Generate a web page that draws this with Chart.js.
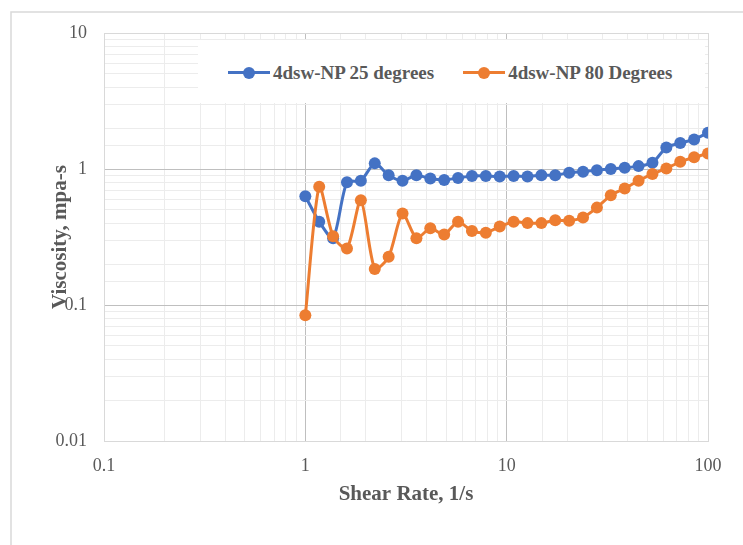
<!DOCTYPE html>
<html>
<head>
<meta charset="utf-8">
<title>Viscosity vs shear rate</title>
<script src="https://cdn.jsdelivr.net/npm/chart.js@4.4.1/dist/chart.umd.min.js"></script>
<style>
  html, body { margin: 0; padding: 0; background: #fff; }
  #wrap { position: relative; width: 743px; height: 545px; }
  #legend {
    position: absolute; left: 198px; top: 40px; width: 507px; height: 63px;
    box-sizing: border-box; padding: 2px 0 0 30px; background: #fff;
    display: flex; align-items: center; gap: 29px;
    font: bold 19px 'Liberation Serif', 'Times New Roman', serif; color: #595959;
  }
  .item { display: flex; align-items: center; white-space: nowrap; }
  .swatch { position: relative; width: 42px; height: 12px; margin-right: 3px; }
  .swatch .ln { position: absolute; left: 0; right: 0; top: 4.5px; height: 3px; }
  .swatch .dot { position: absolute; left: 15px; top: 0; width: 12px; height: 12px; border-radius: 50%; }
</style>
</head>
<body>
<div id="wrap">
  <canvas id="chart-viscosity" width="743" height="545"></canvas>
  <div id="legend"></div>
</div>
<script>
// shear rate steps, 1/s
const shearRate = [1, 1.172, 1.374, 1.610, 1.887, 2.212, 2.593, 3.039, 3.562, 4.175,
                   4.894, 5.736, 6.723, 7.880, 9.237, 10.83, 12.69, 14.87, 17.43, 20.43,
                   23.95, 28.07, 32.90, 38.57, 45.20, 52.98, 62.10, 72.79, 85.32, 100];

// viscosity, mPa-s
const visc25 = [0.63, 0.41, 0.31, 0.80, 0.82, 1.10, 0.90, 0.82, 0.90, 0.85,
                0.83, 0.86, 0.89, 0.89, 0.88, 0.89, 0.88, 0.90, 0.90, 0.94,
                0.955, 0.98, 1.00, 1.02, 1.05, 1.11, 1.44, 1.55, 1.65, 1.85];
const visc80 = [0.084, 0.74, 0.32, 0.26, 0.59, 0.184, 0.226, 0.47, 0.31, 0.366,
                0.33, 0.41, 0.35, 0.34, 0.377, 0.41, 0.40, 0.40, 0.42, 0.417,
                0.44, 0.52, 0.64, 0.72, 0.82, 0.92, 1.01, 1.13, 1.22, 1.30];

const seriesNames = ['4dsw-NP 25 degrees', '4dsw-NP 80 Degrees'];
const seriesColors = ['#4472C4', '#ED7D31'];

const xTickLabels = [0.1, 1, 10, 100];
const yTickLabels = [0.01, 0.1, 1, 10];

const FONT = "'Liberation Serif', 'Times New Roman', serif";
const TEXT = '#595959';

function toPoints(xs, ys) {
    return xs.map((x, i) => ({ x: x, y: ys[i] }));
}

function sameValue(a, b) {
    return Math.abs(a - b) < 1e-9 * Math.max(1, b);
}

function tickText(list) {
    return (value) => {
        const hit = list.find(v => sameValue(value, v));
        return hit === undefined ? '' : String(hit);
    };
}

// light edges, darker decade lines, faint minor lines
function gridColor(list) {
    return (ctx) => {
        const v = ctx.tick ? ctx.tick.value : null;
        if (v === null) return '#ececec';
        if (sameValue(v, list[0]) || sameValue(v, list[list.length - 1])) return '#d9d9d9';
        return list.some(t => sameValue(v, t)) ? '#bfbfbf' : '#ececec';
    };
}

// grey frame round the whole chart, running off the right and bottom
const framePlugin = {
    id: 'frame',
    beforeDraw(chart) {
        const ctx = chart.ctx;
        ctx.save();
        ctx.fillStyle = '#fff';
        ctx.fillRect(0, 0, chart.width, chart.height);
        ctx.strokeStyle = '#d9d9d9';
        ctx.lineWidth = 1.5;
        ctx.strokeRect(11, 12, chart.width + 20, chart.height + 20);
        ctx.restore();
    }
};

// legend built as html over the plot
const htmlLegend = {
    id: 'htmlLegend',
    afterUpdate(chart) {
        const box = document.getElementById('legend');
        box.innerHTML = '';
        chart.data.datasets.forEach(ds => {
            const item = document.createElement('div');
            item.className = 'item';
            item.innerHTML = '<span class="swatch"><span class="ln" style="background:' + ds.borderColor +
                '"></span><span class="dot" style="background:' + ds.backgroundColor + '"></span></span>';
            const label = document.createElement('span');
            label.textContent = ds.label;
            item.appendChild(label);
            box.appendChild(item);
        });
    }
};

const datasets = [0, 1].map(i => ({
    label: seriesNames[i],
    data: toPoints(shearRate, i === 0 ? visc25 : visc80),
    borderColor: seriesColors[i],
    backgroundColor: seriesColors[i],
    pointBackgroundColor: seriesColors[i],
    pointBorderColor: seriesColors[i],
    pointRadius: 6,
    pointBorderWidth: 0,
    borderWidth: 3,
    tension: 0.25,
    order: 1 - i
}));

new Chart(document.getElementById('chart-viscosity'), {
    type: 'line',
    data: { datasets: datasets },
    plugins: [framePlugin, htmlLegend],
    options: {
        responsive: false,
        animation: false,
        layout: { padding: { left: 0, top: 33, right: 35, bottom: 38 } },
        plugins: {
            legend: { display: false },
            tooltip: { enabled: false }
        },
        scales: {
            x: {
                type: 'logarithmic',
                min: 0.1,
                max: 100,
                afterFit: (scale) => { scale.height = 66; },
                grid: { color: gridColor(xTickLabels), lineWidth: 1, drawTicks: false },
                border: { color: '#d9d9d9', width: 1 },
                ticks: {
                    autoSkip: false,
                    maxRotation: 0,
                    padding: 14,
                    color: TEXT,
                    font: { family: FONT, size: 18 },
                    callback: tickText(xTickLabels)
                },
                title: {
                    display: true,
                    text: 'Shear Rate, 1/s',
                    color: TEXT,
                    font: { family: FONT, size: 21, weight: 'bold' },
                    padding: { top: 0, bottom: 0 }
                }
            },
            y: {
                type: 'logarithmic',
                min: 0.01,
                max: 10,
                afterFit: (scale) => { scale.width = 104; },
                grid: { color: gridColor(yTickLabels), lineWidth: 1, drawTicks: false },
                border: { color: '#d9d9d9', width: 1 },
                ticks: {
                    autoSkip: false,
                    padding: 17,
                    color: TEXT,
                    font: { family: FONT, size: 18 },
                    callback: tickText(yTickLabels)
                },
                title: {
                    display: true,
                    text: 'Viscosity, mpa-s',
                    color: TEXT,
                    font: { family: FONT, size: 21, weight: 'bold' },
                    padding: { top: 48, bottom: 0 }
                }
            }
        }
    }
});
</script>
</body>
</html>
